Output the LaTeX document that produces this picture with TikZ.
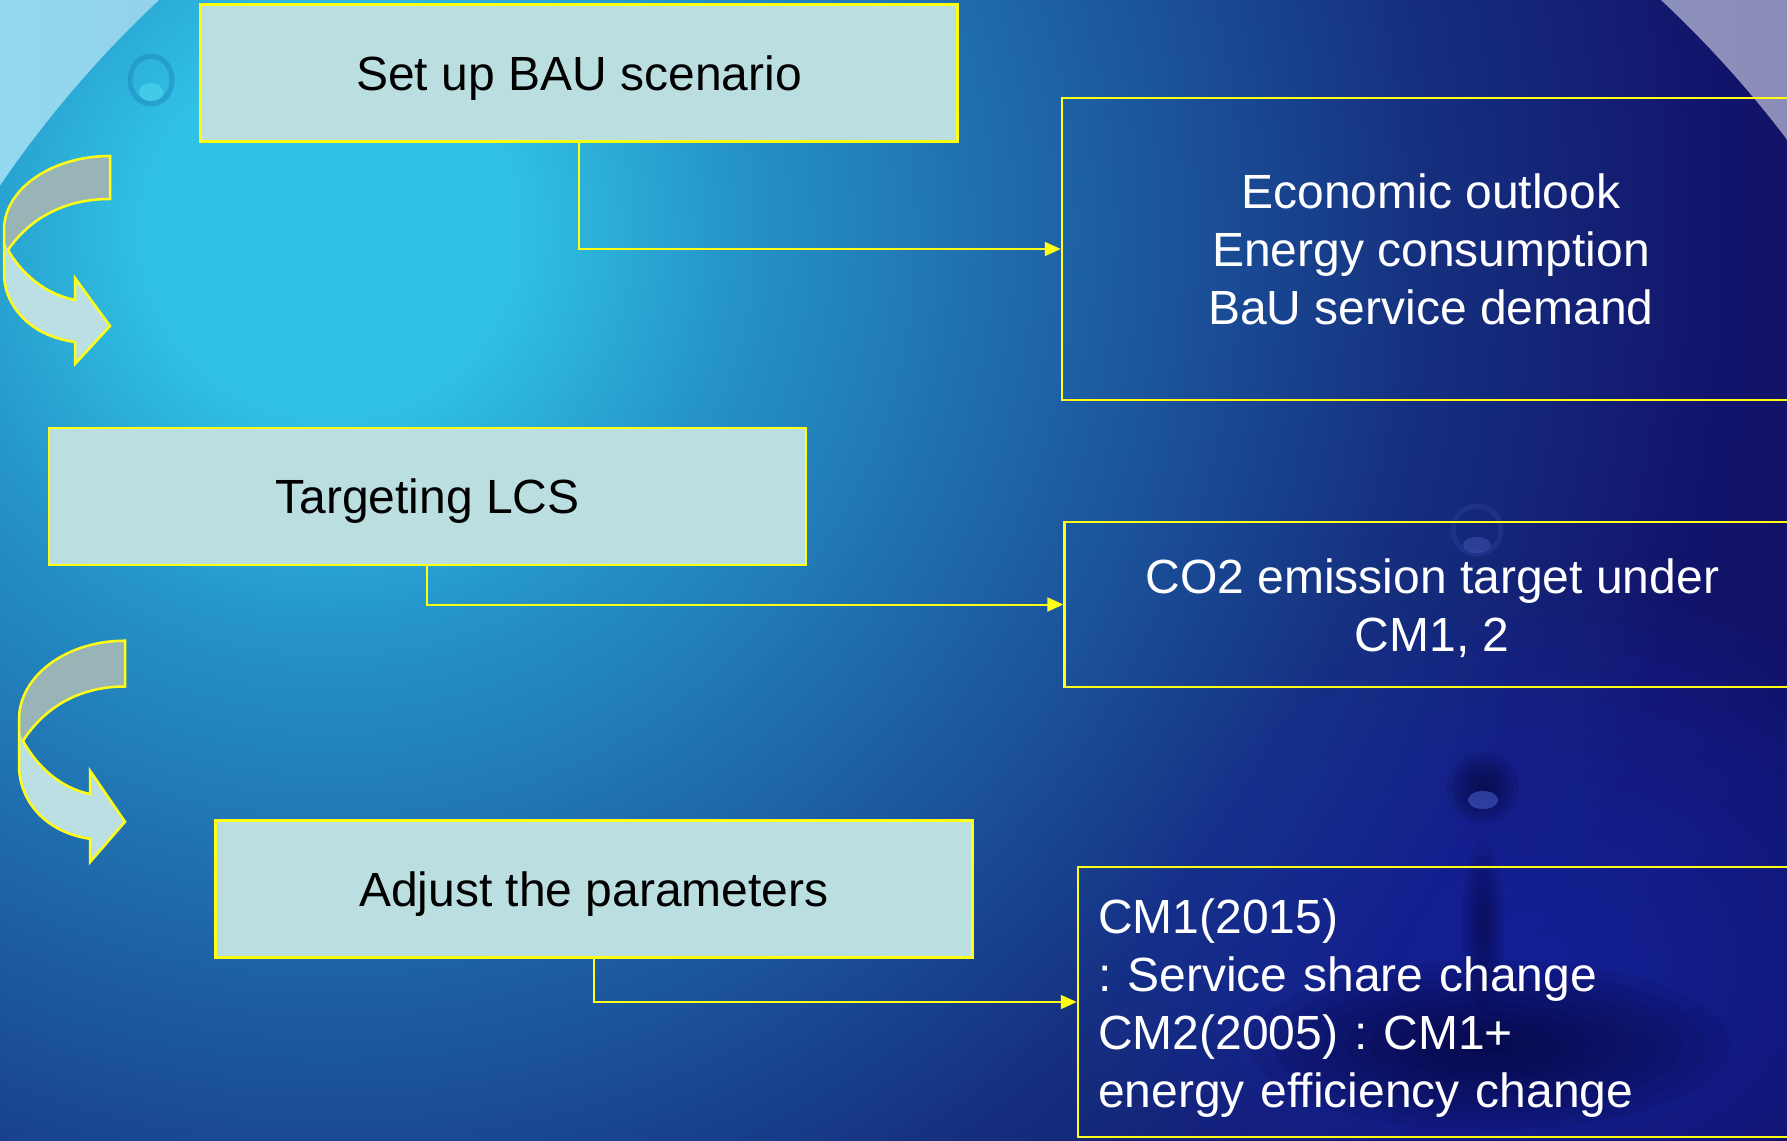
\documentclass[tikz,border=0pt]{standalone}
\usepackage{fontspec}
\setmainfont{Liberation Sans}
\frenchspacing
\usetikzlibrary{arrows.meta}
\definecolor{ylw}{RGB}{255,255,20}
\definecolor{boxfill}{RGB}{187,223,225}
\definecolor{bandgrey}{RGB}{153,180,182}
\definecolor{bandlight}{RGB}{187,223,226}
\definecolor{outL}{RGB}{147,217,239}
\definecolor{outR}{RGB}{140,140,184}
\definecolor{cz}{RGB}{48,194,228}
\definecolor{ca}{RGB}{37,148,200}
\definecolor{cb}{RGB}{30,100,168}
\definecolor{cc}{RGB}{21,48,127}
\definecolor{cd}{RGB}{18,19,106}
\definecolor{ce}{RGB}{16,16,96}
\definecolor{glowblue}{RGB}{32,46,185}
\definecolor{poolc}{RGB}{4,4,48}
\definecolor{dropA}{RGB}{70,90,200}
\definecolor{dropB}{RGB}{40,60,150}
\definecolor{dropC}{RGB}{80,100,200}
\definecolor{dropD}{RGB}{30,135,192}
\definecolor{dropE}{RGB}{80,215,240}
\pgfdeclareradialshading{bgshading}{\pgfpoint{0bp}{0bp}}{color(0bp)=(cz); color(180bp)=(cz); color(400bp)=(ca); color(720bp)=(cb); color(1090bp)=(cc); color(1400bp)=(cd); color(1800bp)=(ce)}
\begin{document}
\begin{tikzpicture}[x=1pt,y=-1pt,
  lbox/.style={draw=ylw, line width=2.5pt, fill=boxfill, minimum width=757pt, minimum height=137pt, inner sep=0pt, text depth=0pt, font=\fontsize{48}{58}\selectfont, text=black},
  rbox/.style={draw=ylw, line width=2.5pt, inner sep=0pt, font=\fontsize{48}{58}\selectfont, text=white},
  conn/.style={draw=ylw, line width=2pt, -{Triangle[length=16pt,width=14pt]}},
  curvarrow/.pic={
    \fill[bandgrey] (0,0) .. controls (-58.5,0) and (-106,33) .. (-106,74) -- (-106,94) -- (-102,94) .. controls (-80,62) and (-45,43) .. (0,43) -- cycle;
    \fill[bandlight] (-106,84) -- (-106,117) .. controls (-106,150) and (-80,180) .. (-35,186) -- (-35,208) -- (0,170) -- (-35,122) -- (-35,144) .. controls (-65,138) and (-88,118) .. (-102,94) -- cycle;
    \draw[ylw, line width=2.5pt] (0,0) .. controls (-58.5,0) and (-106,33) .. (-106,74) -- (-106,117) .. controls (-106,150) and (-80,180) .. (-35,186) -- (-35,208) -- (0,170) -- (-35,122) -- (-35,144) .. controls (-65,138) and (-88,118) .. (-102,94) .. controls (-80,62) and (-45,43) .. (0,43) -- cycle;
  }]
\useasboundingbox (0,0) rectangle (1787,1140);
\clip (0,0) rectangle (1787,1140);
% background
\fill[left color=outL, right color=outR] (0,0) rectangle (1787,1140);
\begin{scope}
  \clip (910,804) circle (1100);
  \pgftext[at={\pgfpointxy{330}{230}}]{\pgfuseshading{bgshading}};
  % blue glow and water ripple, lower right
  \foreach \i in {1,...,14} \fill[glowblue, opacity=0.06] (1540,960) ellipse ({\i*33} and {\i*26});
  \foreach \i in {1,...,10} \fill[poolc, opacity=0.09] (1490,1045) ellipse ({\i*24} and {\i*8.5});
  \foreach \i in {1,...,6} \fill[poolc, opacity=0.1] (1483,925) ellipse ({\i*3.5} and {\i*14});
  % drops
  \foreach \i in {1,...,6} \fill[poolc, opacity=0.13] (1483,788) ellipse ({\i*6} and {\i*6});
  \fill[dropA, opacity=0.6] (1483,800) ellipse (15 and 9);
  \draw[dropB, line width=5pt, opacity=0.5] (1477,530) circle (24);
  \fill[dropC, opacity=0.4] (1477,545) ellipse (14 and 8);
  \draw[dropD, line width=5pt, opacity=0.5] (151,80) ellipse (21 and 24);
  \fill[dropE, opacity=0.6] (151,92) ellipse (12 and 9);
\end{scope}
% curved arrows
\pic at (110,156) {curvarrow};
\pic[yscale=1.065] at (125,640.7) {curvarrow};
% boxes
\node[lbox] (b1) at (579,73) {Set up BAU scenario};
\node[lbox] (b2) at (427.4,496.3) {Targeting LCS};
\node[lbox] (b3) at (593.8,889) {Adjust the parameters};
\node[rbox, minimum width=738pt, minimum height=302pt, align=center] (r1) at (1431,249) {Economic outlook\\Energy consumption\\BaU service demand};
\node[rbox, minimum width=735.5pt, minimum height=165pt, align=center] (r2) at (1432.3,604.5) {\rule{0pt}{41.5pt}CO2 emission target under\\CM1, 2};
\node[rbox, minimum width=722pt, minimum height=270pt, text width=682pt, inner xsep=20pt, align=left] (r3) at (1439,1002) {\rule{0pt}{47pt}CM1(2015)\\: Service share change\\CM2(2005) : CM1+\\energy efficiency change};
% connectors
\draw[conn] (b1.south) |- (r1.west);
\draw[conn] (b2.south) |- (r2.west);
\draw[conn] (b3.south) |- (r3.west);
\end{tikzpicture}
\end{document}
